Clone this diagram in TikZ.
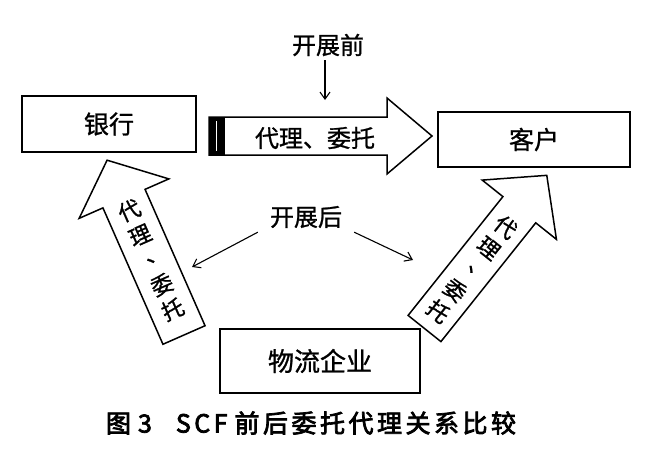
\documentclass[tikz,border=0pt]{standalone}
\usepackage{fontspec}
\setmainfont{Noto Sans CJK SC}[FakeBold=1]
\newfontfamily\tufont[FakeBold=3,LetterSpace=14]{Noto Sans CJK SC}
\usetikzlibrary{arrows.meta}
\newcommand{\dun}{\makebox[0pt]{\hspace{0.56em}\raisebox{0.26em}{、}}} % centred dun-hao for vertical text

\begin{document}
\begin{tikzpicture}[x=1pt,y=-1pt] % 1 unit = 1 pixel, y goes down
\tikzstyle{kuang} = [draw, line width=1.5pt, font=\fontsize{25}{25}\selectfont] % box style
\tikzstyle{dajiantou} = [draw, line width=1.5pt, line join=miter, fill=white] % block arrow style
\tikzstyle{shuzi} = [font=\fontsize{22}{27}\selectfont, align=center, rotate=-90, inner sep=0pt] % vertical text in block arrow
\tikzstyle{biaoqian} = [font=\fontsize{24}{24}\selectfont, inner xsep=12pt, inner ysep=4pt] % label above thin arrows
\tikzstyle{xian} = [->, line width=1.1pt, >={Straight Barb[length=7pt,width=10pt]}] % thin arrow
\useasboundingbox (0,0) rectangle (660,458);

\node[kuang, minimum width=174pt, minimum height=56pt] (yinhang) at (109,124) {银行}; % three parties
\node[kuang, minimum width=192pt, minimum height=55pt] (kehu) at (534,139.5) {客户};
\node[kuang, minimum width=200pt, minimum height=64pt, font=\fontsize{26}{26}\selectfont] (wuliu) at (320,361) {物流企业};

\begin{scope}[shift={(209,136)}] % before: bank -> customer
  \draw[dajiantou] (0,-19) -- (178,-19) -- (178,-38) -- (223,0) -- (178,38) -- (178,19) -- (0,19) -- cycle;
  \fill (0,-19) rectangle (16,19);
  \draw[white, line width=1.5pt] (7.5,-15) -- (7.5,15);
  \node[font=\fontsize{24}{24}\selectfont] (dailiA) at (106,2) {代理、委托};
\end{scope}

\begin{scope}[shift={(184,335)}, rotate=113.75, transform shape] % after: logistics -> bank
  \draw[dajiantou] (0,-23) -- (149,-23) -- (149,-49) -- (191,0) -- (149,49) -- (149,23) -- (0,23) -- cycle;
  \node[shuzi] (dailiB) at (82,0) {代\\理\\\dun\\委\\托};
\end{scope}

\begin{scope}[shift={(424.5,328.5)}, rotate=51.4, transform shape] % after: logistics -> customer
  \draw[dajiantou] (0,-21) -- (152,-21) -- (152,-47.5) -- (196,0) -- (152,47.5) -- (152,21) -- (0,21) -- cycle;
  \node[shuzi] (dailiC) at (76,0) {代\\理\\\dun\\委\\托};
\end{scope}

\node[biaoqian] (qian) at (328,45) {开展前};
\node[biaoqian] (hou) at (306,217) {开展后};
\coordinate (qianjian) at (325,100);
\coordinate (zuojian) at (192,267);
\coordinate (youjian) at (413,260);
\draw[xian] (qian.south -| qianjian) -- (qianjian);
\draw[xian] (hou.south west) -- (zuojian);
\draw[xian] (hou.south east) -- (youjian);

\node[font=\tufont\fontsize{25}{25}\selectfont] (tuming) at (311,423) {图\hspace{7pt}3\hspace{24pt}SCF\hspace{7pt}前后委托代理关系比较}; % caption
\end{tikzpicture}
\end{document}
